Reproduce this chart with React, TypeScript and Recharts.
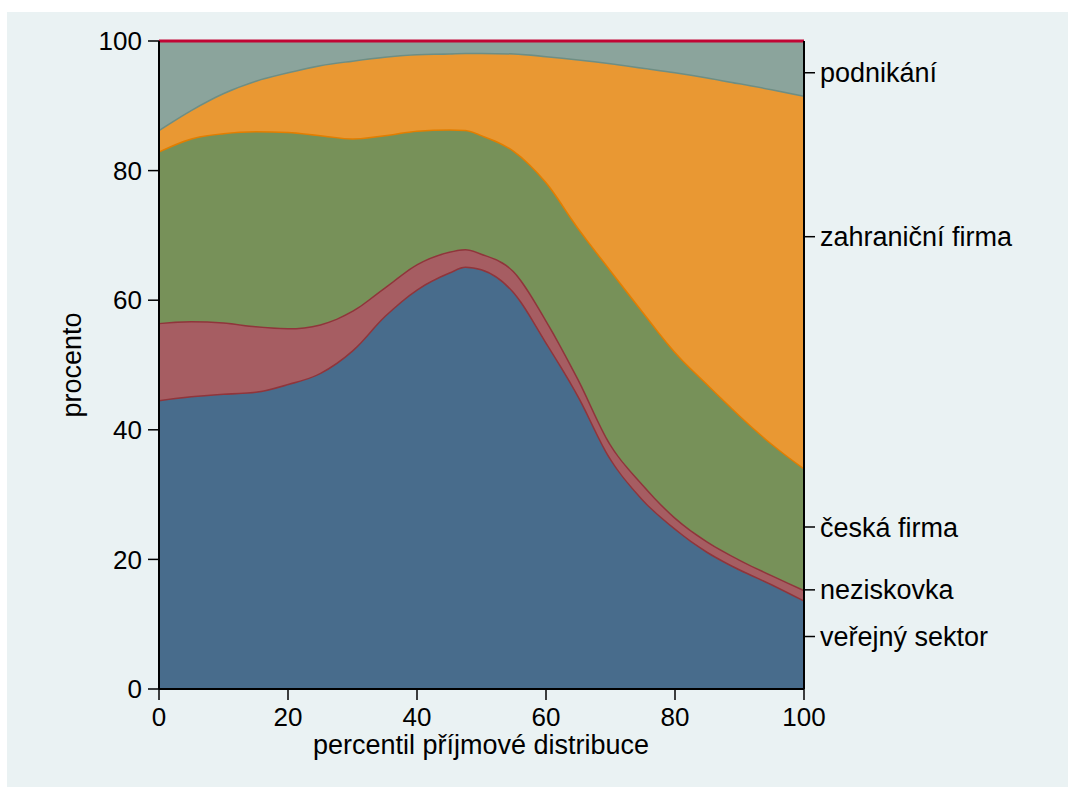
import { AreaChart, Area, XAxis, YAxis } from 'recharts';

// percentile of the income distribution
const percentiles = [0, 5, 10, 15, 20, 25, 30, 35, 40, 45, 47.5, 50, 55, 60, 65, 70, 75, 80, 85, 90, 95, 100];

// share of each employer type (percent)
const verejny = [44.6, 45.2, 45.6, 45.9, 47.1, 48.8, 52.3, 57.6, 61.7, 64.3, 65.2, 64.8, 61.3, 53.6, 45.3, 35.6, 29.3, 24.8, 21.2, 18.5, 16.2, 13.7];
const neziskovka = [11.9, 11.6, 11.0, 10.1, 8.6, 7.5, 6.1, 4.4, 3.9, 3.2, 2.7, 2.4, 3.2, 3.4, 2.6, 2.2, 2.3, 1.7, 1.6, 1.5, 1.4, 1.6];
const ceska = [26.5, 28.2, 29.2, 30.1, 30.3, 29.2, 26.6, 23.5, 20.6, 18.9, 18.4, 18.3, 18.6, 21.3, 23.3, 26.9, 26.7, 25.6, 24.3, 22.3, 20.3, 18.8];
const zahranicni = [3.3, 4.4, 6.2, 7.8, 9.2, 10.8, 12.0, 12.1, 11.8, 11.7, 11.9, 12.7, 15.0, 19.4, 26.0, 31.9, 37.6, 43.1, 47.3, 51.2, 54.7, 57.5];
const podnikani = [13.7, 10.6, 8.0, 6.1, 4.8, 3.7, 3.0, 2.4, 2.0, 1.9, 1.8, 1.8, 1.9, 2.3, 2.8, 3.4, 4.1, 4.8, 5.6, 6.5, 7.4, 8.4];

const xTicks = [0, 20, 40, 60, 80, 100];
const yTicks = [0, 20, 40, 60, 80, 100];

// labels on the right-hand axis, at the middle of each band near x = 100
const sideValues = [8.1, 15.3, 25, 69.8, 95.1];
const sideLabels = ['veřejný sektor', 'neziskovka', 'česká firma', 'zahraniční firma', 'podnikání'];

const rows = percentiles.map((p, i) => ({
  p,
  verejny: verejny[i],
  neziskovka: neziskovka[i],
  ceska: ceska[i],
  zahranicni: zahranicni[i],
  podnikani: podnikani[i],
}));

const font = '"Liberation Sans", Arial, sans-serif';

export default function App() {
  return (
    <div style={{ position: 'absolute', left: 0, top: 0, width: 1068, height: 787, background: '#fff', fontFamily: font }}>
      <div style={{ position: 'absolute', left: 7, top: 12, width: 1061, height: 775, background: '#eaf2f3' }} />
      <div style={{ position: 'absolute', left: 0, top: 0 }}>
        <AreaChart width={1068} height={787} data={rows} margin={{ top: 41, right: 34, bottom: 18, left: 59 }}>
          <XAxis
            dataKey="p"
            type="number"
            domain={[0, 100]}
            ticks={xTicks}
            height={80}
            tickSize={11}
            tickMargin={8}
            axisLine={{ stroke: '#000', strokeWidth: 2 }}
            tickLine={{ stroke: '#000', strokeWidth: 1.5 }}
            tick={{ fill: '#000', fontSize: 26, fontFamily: font }}
          />
          <YAxis
            yAxisId="left"
            type="number"
            domain={[0, 100]}
            ticks={yTicks}
            width={100}
            tickSize={11}
            tickMargin={6}
            axisLine={{ stroke: '#000', strokeWidth: 2 }}
            tickLine={{ stroke: '#000', strokeWidth: 1.5 }}
            tick={{ fill: '#000', fontSize: 26, fontFamily: font }}
          />
          <YAxis
            yAxisId="right"
            orientation="right"
            type="number"
            domain={[0, 100]}
            allowDataOverflow
            ticks={sideValues}
            interval={0}
            tickFormatter={(v: number) => sideLabels[sideValues.indexOf(v)]}
            width={230}
            tickSize={11}
            tickMargin={5}
            axisLine={{ stroke: '#000', strokeWidth: 2 }}
            tickLine={{ stroke: '#000', strokeWidth: 1.5 }}
            tick={{ fill: '#000', fontSize: 27, fontFamily: font }}
          />
          <Area yAxisId="left" type="monotone" dataKey="verejny" stackId="s" fill="#486c8c" fillOpacity={1} stroke="#90353b" strokeWidth={3} isAnimationActive={false} />
          <Area yAxisId="left" type="monotone" dataKey="neziskovka" stackId="s" fill="#a65d62" fillOpacity={1} stroke="#90353b" strokeWidth={3} isAnimationActive={false} />
          <Area yAxisId="left" type="monotone" dataKey="ceska" stackId="s" fill="#779159" fillOpacity={1} stroke="#e37e00" strokeWidth={3} isAnimationActive={false} />
          <Area yAxisId="left" type="monotone" dataKey="zahranicni" stackId="s" fill="#e99833" fillOpacity={1} stroke="#6e8e84" strokeWidth={3} isAnimationActive={false} />
          <Area yAxisId="left" type="monotone" dataKey="podnikani" stackId="s" fill="#8ba49c" fillOpacity={1} stroke="#c10534" strokeWidth={3} isAnimationActive={false} />
          {/* invisible series so the right-hand label axis is drawn */}
          <Area yAxisId="right" type="monotone" dataKey="podnikani" fill="none" stroke="none" activeDot={false} isAnimationActive={false} />
        </AreaChart>
      </div>
      <div style={{ position: 'absolute', left: 481, top: 732, transform: 'translateX(-50%)', fontSize: 27, lineHeight: '27px', whiteSpace: 'nowrap', color: '#000' }}>
        percentil příjmové distribuce
      </div>
      <div style={{ position: 'absolute', left: 72, top: 365, transform: 'translate(-50%, -50%) rotate(-90deg)', fontSize: 27, lineHeight: '27px', whiteSpace: 'nowrap', color: '#000' }}>
        procento
      </div>
    </div>
  );
}
